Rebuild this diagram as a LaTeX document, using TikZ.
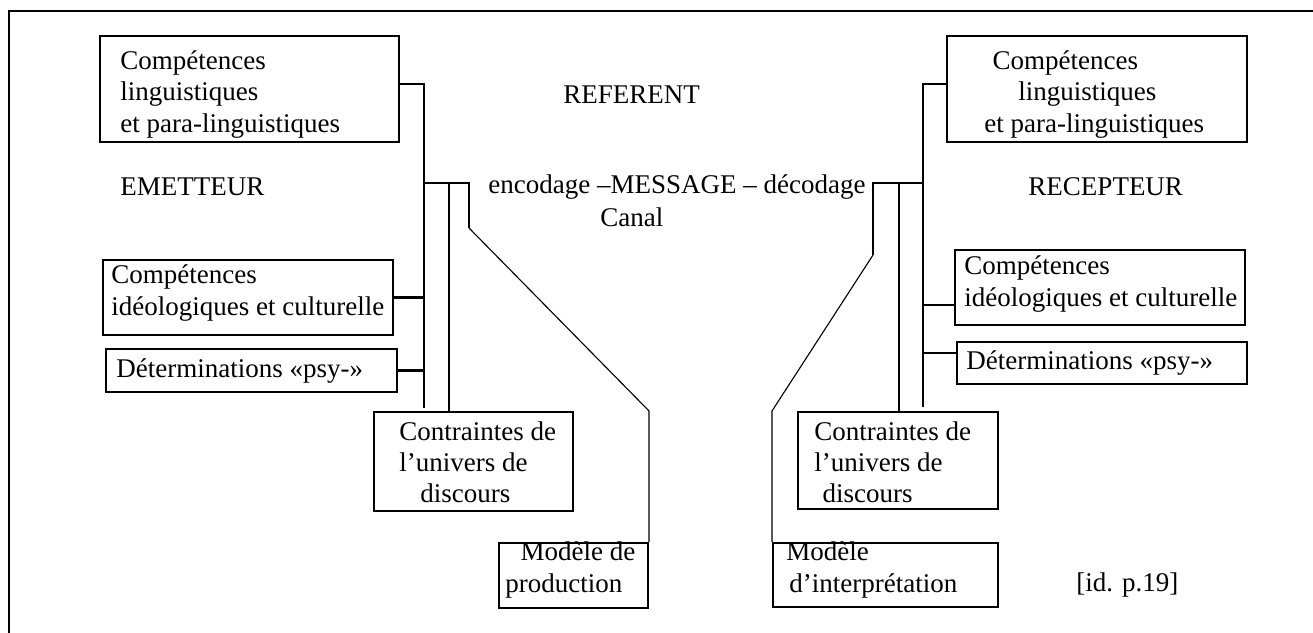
\documentclass[tikz,border=0pt]{standalone}
\usepackage{fontspec}
\setmainfont{Liberation Serif}
\usetikzlibrary{calc, fit}
\tikzset{
  every picture/.style={x=0.4444pt, y=-0.4444pt, font=\fontsize{12pt}{13.8pt}\selectfont},
  box/.style={draw, line width=0.9pt, inner sep=0pt},
  txt/.style={anchor=west, align=left, inner sep=0pt},
  link/.style={draw, line width=0.9pt},
  slant/.style={draw, line width=0.5pt},
  frame/.style={draw, line width=0.9pt},
}

\begin{document}
\begin{tikzpicture}
  \useasboundingbox (0,0) rectangle (1313,633);
  \draw[frame] (9,660) -- (9,11) -- (1340,11);

  % emitter side
  \node[box, fit={(100,36) (399,142)}] (emLing) {};
  \node[txt] (emLingT) at (120,94.5) {Compétences\\linguistiques\\et para-linguistiques};
  \node[txt] (emName) at (120,187) {EMETTEUR};
  \node[box, fit={(103,260) (393,335)}] (emIdeo) {};
  \node[txt] (emIdeoT) at (111,293) {Compétences\\idéologiques et culturelle};
  \node[box, fit={(106,349) (397,392)}] (emPsy) {};
  \node[txt] (emPsyT) at (116,371) {Déterminations «psy-»};
  \node[box, fit={(374,412) (573,511)}] (emContr) {};
  \node[txt] (emContrT) at (399,462) {Contraintes de\\l’univers de\\\hspace*{9.3pt}discours};
  \node[box, fit={(499,543) (648,608)}] (emModel) {};
  \node[txt] (emModelT) at (505,570) {\hspace*{6.7pt}Modèle de\\production};

  % middle
  \node[txt] (referent) at (563,95) {REFERENT};
  \node[txt] (message) at (488,187) {encodage –MESSAGE – décodage};
  \node[txt] (canal) at (600,217) {Canal};

  % receiver side
  \node[box, fit={(947,36) (1247,142)}] (reLing) {};
  \node[txt] (reLingT) at (984,94.5) {\hspace*{3.6pt}Compétences\\\hspace*{15.1pt}linguistiques\\et para-linguistiques};
  \node[txt] (reName) at (1028,187) {RECEPTEUR};
  \node[box, fit={(955,250) (1245,325)}] (reIdeo) {};
  \node[txt] (reIdeoT) at (964,284) {Compétences\\idéologiques et culturelle};
  \node[box, fit={(957,342) (1247,384)}] (rePsy) {};
  \node[txt] (rePsyT) at (966,363) {Déterminations «psy-»};
  \node[box, fit={(798,412) (998,509)}] (reContr) {};
  \node[txt] (reContrT) at (814,462.5) {Contraintes de\\l’univers de\\\hspace*{3.6pt}discours};
  \node[box, fit={(773,543) (998,607)}] (reModel) {};
  \node[txt] (reModelT) at (786,570) {Modèle\\\hspace*{1.3pt}d’interprétation};
  \node[txt] (source) at (1076,585) {[id. p.19]};

  % emitter connectors
  \coordinate (emSpine) at (424,408);
  \coordinate (emFork) at (469,183);
  \coordinate (emBend) at (469,228);
  \coordinate (emInner) at (449,183);
  \coordinate (emLingTap) at ($(emLing.north east)+(0,49)$);
  \draw[link] (emLingTap) -| (emSpine);
  \draw[link] (emIdeo.east) -- (emIdeo.east -| emSpine);
  \draw[link] (emPsy.east) -- (emPsy.east -| emSpine);
  \draw[link] (emFork -| emSpine) -- (emFork) -- (emBend);
  \draw[link] (emInner) -- (emInner |- emContr.north);
  \draw[slant] (emBend) -- (emModel.north east |- emContr.north) -- (emModel.north east);

  % receiver connectors
  \coordinate (reSpine) at (923,407);
  \coordinate (reFork) at (873,183);
  \coordinate (reBend) at (873,255);
  \coordinate (reInner) at (899,183);
  \coordinate (reLingTap) at ($(reLing.north west)+(0,49)$);
  \coordinate (reIdeoTap) at ($(reIdeo.south west)+(0,-21)$);
  \coordinate (rePsyTap) at ($(rePsy.north west)+(0,12)$);
  \draw[link] (reLingTap) -| (reSpine);
  \draw[link] (reIdeoTap) -- (reIdeoTap -| reSpine);
  \draw[link] (rePsyTap) -- (rePsyTap -| reSpine);
  \draw[link] (reFork -| reSpine) -- (reFork) -- (reBend);
  \draw[link] (reInner) -- (reInner |- reContr.north);
  \draw[slant] (reBend) -- (reModel.north west |- reContr.north) -- (reModel.north west);
\end{tikzpicture}
\end{document}
